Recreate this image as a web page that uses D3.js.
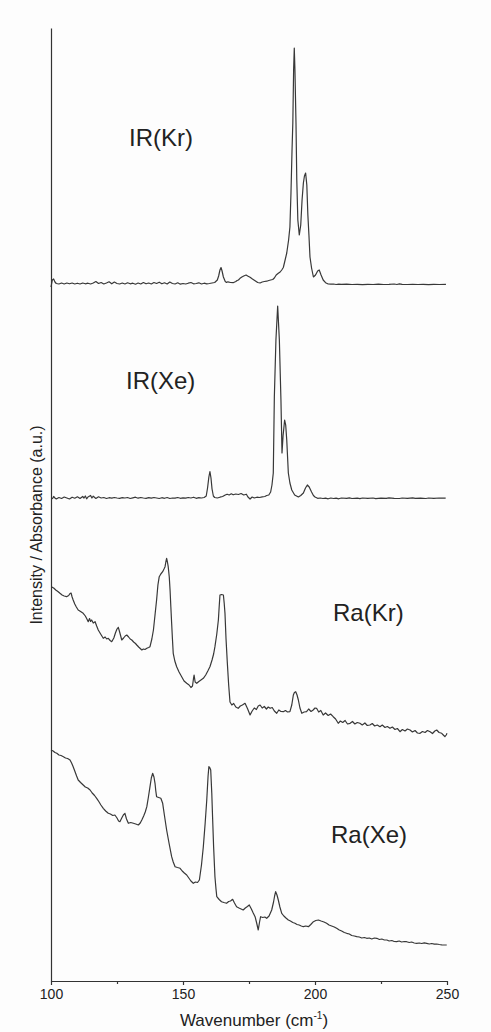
<!DOCTYPE html>
<html><head><meta charset="utf-8">
<script src="https://cdn.jsdelivr.net/npm/d3@7"></script>
<style>body{margin:0;background:#fdfdfd}svg{display:block}</style>
</head><body><svg id="c" width="491" height="1032"></svg>
<script>
const xTickValues=[100,150,200,250];
const xMinorTicks=[125,175,225];
const xTitle="Wavenumber (cm";
const yTitle="Intensity / Absorbance (a.u.)";
const seriesNames=["IR(Kr)","IR(Xe)","Ra(Kr)","Ra(Xe)"];

const irKr=[[100,69.4],[100.5,70.1],[101,70.2],[101.5,69.9],[102,69.75],[103,69.7],[104,69.8],[105,69.7],[106,69.8],[107,69.72],[108,69.8],[109,69.7],[110,69.78],[111,69.7],[112,69.8],[113,69.72],[114,69.78],[115,69.7],[116,69.8],[117,69.95],[118,69.75],[119,69.85],[120,69.7],[121,69.8],[122,69.92],[123,69.72],[124,69.9],[125,69.75],[126,69.7],[127,69.8],[128,69.7],[129,69.82],[130,69.72],[131,69.78],[132,69.68],[133,69.8],[134,69.7],[135,69.85],[136,69.72],[137,69.8],[138,69.7],[139,69.85],[140,69.75],[141,69.88],[142,69.72],[143,69.82],[144,69.7],[145,69.9],[146,69.75],[147,69.7],[148,69.82],[149,69.68],[150,69.75],[151,69.7],[152,69.78],[153,69.85],[154,69.72],[155,69.75],[156,69.82],[157,69.7],[158,69.78],[159,69.72],[160,69.75],[161,69.8],[162,69.85],[163,70.1],[163.5,70.5],[164,71.1],[164.4,71.35],[164.8,71.0],[165.3,70.4],[166,69.95],[166.5,69.85],[167,69.92],[168,69.85],[169,69.83],[170,69.95],[170.5,70.05],[171,70.1],[171.6,70.27],[172.3,70.4],[173,70.5],[173.9,70.6],[174.5,70.5],[175.4,70.37],[176.3,70.2],[177.3,70.03],[178.3,69.85],[179.2,69.8],[180,69.9],[180.8,69.95],[181.7,69.98],[182.5,70.05],[183.2,70.1],[184,70.15],[184.6,70.3],[185.3,70.6],[186.1,70.77],[186.8,70.9],[187.4,71.1],[188,71.35],[188.5,71.9],[189.3,72.8],[190,74.1],[190.5,75.4],[190.9,78.8],[191.3,83.1],[191.6,85.8],[191.9,91.1],[192.15,93.3],[192.4,91.1],[192.8,85.8],[193.1,80.1],[193.5,76.1],[194.05,74.6],[194.6,75.6],[195.1,78.1],[195.6,79.8],[196,80.5],[196.45,80.8],[196.9,79.6],[197.3,76.6],[197.7,74.6],[198.1,72.4],[198.7,71.3],[199.4,70.4],[200.2,70.6],[201,71.0],[201.6,71.1],[202.3,70.6],[203.1,70.1],[204,69.83],[205,69.7],[206,69.68],[207,69.7],[208,69.65],[209,69.68],[210,69.66],[212,69.68],[214,69.65],[216,69.67],[218,69.64],[220,69.67],[222,69.65],[224,69.68],[226,69.65],[228,69.66],[230,69.7],[231,69.65],[232,69.72],[233,69.66],[235,69.65],[237,69.67],[239,69.65],[241,69.66],[243,69.64],[245,69.66],[247,69.65],[249.6,69.66]];

const irXe=[[100.5,48.2],[101,48.45],[101.5,48.3],[102,48.2],[103,48.35],[104,48.25],[105,48.4],[106,48.3],[107,48.2],[108,48.38],[109,48.28],[110,48.42],[111,48.25],[112,48.45],[112.5,48.3],[113,48.5],[113.5,48.22],[114,48.4],[115,48.55],[115.5,48.3],[116,48.48],[117,48.25],[118,48.42],[119,48.3],[120,48.35],[121,48.25],[122,48.33],[123,48.28],[124,48.35],[125,48.3],[126,48.27],[127,48.33],[128,48.3],[129,48.35],[130,48.25],[131,48.32],[132,48.38],[133,48.28],[134,48.35],[135,48.3],[136,48.26],[137,48.33],[138,48.28],[139,48.35],[140,48.3],[141,48.25],[142,48.33],[143,48.27],[144,48.35],[145,48.25],[146,48.3],[147,48.28],[148,48.35],[149,48.27],[150,48.32],[151,48.28],[152,48.35],[153,48.3],[154,48.38],[155,48.27],[156,48.33],[157,48.3],[158,48.35],[158.8,48.5],[159.3,49.3],[159.8,50.4],[160.2,50.93],[160.6,50.3],[161,49.2],[161.5,48.5],[162,48.35],[163,48.3],[164,48.38],[165,48.45],[166,48.6],[166.7,48.68],[167.5,48.6],[168.3,48.72],[169,48.62],[170,48.7],[171,48.65],[172,48.75],[173,48.6],[174,48.68],[174.6,48.4],[175.4,48.2],[176.2,48.4],[177,48.3],[178,48.38],[179,48.35],[180,48.42],[181,48.45],[181.7,48.55],[182.5,48.6],[183.2,48.9],[183.7,49.6],[184.2,50.8],[184.6,58.4],[185.2,64.1],[185.86,67.5],[186.5,64.1],[187.1,58.1],[187.5,52.8],[187.9,54.5],[188.5,56.1],[188.9,55.6],[189.3,54.1],[189.9,50.8],[190.5,49.8],[191.2,49.1],[192.3,48.6],[193.7,48.4],[194.6,48.55],[195.6,48.8],[196.4,49.3],[197.1,49.6],[197.8,49.4],[198.7,48.9],[199.4,48.55],[200,48.4],[201,48.27],[202,48.3],[203,48.25],[204,48.28],[205,48.22],[206,48.3],[207,48.25],[208,48.28],[209,48.22],[210,48.3],[212,48.26],[213,48.32],[214,48.25],[216,48.28],[217,48.23],[218,48.3],[220,48.27],[222,48.3],[223,48.24],[225,48.28],[227,48.26],[228,48.32],[230,48.27],[232,48.25],[233,48.3],[235,48.27],[237,48.32],[238,48.26],[240,48.28],[242,48.25],[243,48.3],[245,48.27],[247,48.3],[249.5,48.28]];

const raKr=[[100.3,39.4],[101,39.3],[101.8,39.1],[102.6,38.95],[103.4,38.77],[104.2,38.6],[105,38.5],[105.9,38.43],[106.7,38.55],[107.2,38.75],[107.6,38.8],[108,38.4],[108.4,38.1],[109,37.7],[109.6,37.4],[110.3,37.1],[111.2,36.95],[112.2,36.77],[113,36.5],[113.6,36.2],[114.1,35.93],[114.6,36.25],[115,35.95],[115.4,36.1],[116,35.8],[116.7,35.93],[117.3,35.5],[117.9,35.1],[118.8,34.7],[119.8,34.27],[120.5,34.4],[121.1,34.2],[121.7,34.27],[122.4,34.05],[123,33.93],[123.8,34.3],[124.4,34.8],[125,35.2],[125.5,35.37],[126,34.9],[126.8,34.1],[127.5,34.3],[128.1,34.5],[128.7,34.6],[129.4,34.4],[130,34.2],[130.6,34.1],[131.3,33.9],[132,33.75],[132.5,33.6],[133.2,33.4],[133.8,33.25],[134.4,33.1],[135,33.2],[135.6,33.15],[136.3,33.27],[137,33.35],[137.5,33.43],[138.2,34.2],[138.8,35.1],[139.4,36.6],[140,38.1],[140.5,39.6],[141,40.43],[141.6,40.7],[142.3,40.93],[142.8,41.2],[143.2,41.43],[143.5,41.9],[143.8,42.27],[144.1,41.9],[144.4,41.43],[144.8,40.4],[145.1,39.1],[145.4,37.4],[145.7,35.77],[146,34.2],[146.3,32.77],[146.9,32.0],[147.6,31.43],[148.5,30.9],[149.5,30.43],[150.4,30.0],[151.4,29.77],[152.3,29.6],[153,29.35],[153.6,29.5],[154,30.3],[154.2,30.6],[154.6,29.9],[155.2,29.77],[156,29.95],[156.8,30.1],[157.7,30.27],[158.6,30.6],[159.4,31.0],[160.2,31.43],[161,32.1],[161.6,32.7],[162.1,33.43],[162.8,34.7],[163.4,36.1],[163.7,37.4],[164,38.6],[164.6,38.65],[165.3,38.6],[165.6,37.8],[165.9,36.77],[166.3,34.2],[166.8,31.77],[167.3,29.6],[167.8,27.9],[168.5,27.6],[169.2,27.75],[170,27.4],[170.9,27.27],[171.7,27.5],[172.5,27.6],[173.5,27.77],[174.5,27.2],[175.4,26.6],[176.2,27.0],[177,27.3],[177.8,27.15],[178.5,27.5],[179.2,27.6],[180,27.3],[180.8,27.45],[181.6,27.2],[182.3,27.4],[183,27.27],[183.8,27.35],[184.6,27.0],[185.5,26.77],[186.3,27.1],[187.1,26.95],[188,26.93],[188.8,27.05],[189.6,26.9],[190.5,26.93],[191.2,27.6],[191.8,28.6],[192.2,28.85],[192.7,28.93],[193.2,28.6],[193.7,28.1],[194.3,27.3],[195,26.77],[195.9,26.9],[196.8,26.93],[197.6,27.2],[198.5,26.95],[199.3,27.1],[200,27.3],[200.6,27.27],[201.4,26.9],[202.2,27.05],[203.1,26.6],[204,26.8],[205,26.55],[205.9,26.7],[206.9,26.43],[207.8,26.2],[208.8,25.77],[209.6,26.0],[210.5,25.85],[211.4,26.05],[212.3,25.7],[213.3,25.77],[214.2,25.95],[215.1,25.7],[216,25.85],[217,25.77],[217.9,25.6],[218.9,25.8],[219.8,25.55],[220.8,25.6],[221.7,25.75],[222.6,25.5],[223.6,25.6],[224.6,25.43],[225.5,25.6],[226.5,25.35],[227.4,25.45],[228.4,25.27],[229.3,25.4],[230.3,25.15],[231.2,25.25],[232.2,24.93],[233.1,25.15],[234.1,25.0],[235,25.2],[236,25.1],[236.9,24.9],[237.9,25.05],[238.8,24.8],[239.8,24.77],[240.7,24.95],[241.7,24.85],[242.6,25.05],[243.6,24.93],[244.5,24.75],[245.4,25.0],[246.1,25.1],[247,24.85],[248,24.77],[248.6,24.6],[249.2,24.43],[249.7,24.6],[250,24.77]];

const raXe=[[100,23.1],[100.8,23.0],[101.5,22.85],[102.2,22.77],[103,22.6],[103.8,22.55],[104.7,22.43],[105.5,22.3],[106.3,22.25],[107.2,22.1],[107.8,21.8],[108.4,21.43],[109,21.0],[109.7,20.5],[110.3,20.1],[111.2,19.85],[112.2,19.6],[113,19.4],[113.9,19.3],[114.8,19.1],[115.6,18.8],[116.5,18.55],[117.3,18.27],[118.1,17.95],[118.9,17.6],[119.8,17.27],[120.7,17.0],[121.7,16.77],[122.5,16.7],[123.4,16.55],[124.2,16.6],[125,16.3],[125.6,16.0],[126.1,15.93],[126.8,16.3],[127.4,16.6],[128,16.77],[128.6,16.2],[129.3,15.77],[130.2,15.85],[131.2,15.77],[132.1,15.7],[133.1,15.6],[133.8,15.8],[134.4,16.1],[135.1,16.5],[135.7,16.9],[136.3,17.43],[136.9,18.4],[137.5,19.43],[138,20.3],[138.5,20.77],[139,20.4],[139.4,19.77],[139.7,19.0],[140,18.43],[140.8,18.35],[141.6,18.27],[142.3,17.77],[143,16.5],[143.8,15.1],[144.7,13.8],[145.7,12.43],[146.3,11.9],[147,11.43],[147.9,11.35],[148.9,11.27],[149.7,11.0],[150.5,10.8],[151.4,10.6],[152.2,10.3],[153,10.0],[153.9,9.77],[154.7,9.9],[155.5,9.85],[156.2,10.1],[157,11.6],[157.7,13.43],[158.4,15.8],[159,18.1],[159.5,20.5],[159.8,21.43],[160.2,21.3],[160.5,21.1],[160.9,18.8],[161.2,16.43],[161.6,13.4],[162.1,10.43],[162.5,9.2],[162.8,8.43],[163.7,8.15],[164.6,7.93],[165.5,7.85],[166.5,7.77],[167.3,7.95],[168,8.0],[168.8,8.17],[169.5,7.8],[170.3,7.43],[171.2,7.3],[172,7.2],[172.8,7.1],[173.6,7.3],[174.4,7.45],[175.1,7.6],[175.9,7.2],[176.6,6.8],[177.3,6.43],[177.9,5.8],[178.5,5.1],[179,5.9],[179.4,6.43],[180.2,6.35],[181,6.4],[181.7,6.27],[182.6,6.5],[183.1,6.8],[183.6,7.1],[184.3,7.9],[184.7,8.5],[185.1,8.93],[185.6,8.6],[186.1,8.1],[186.7,7.4],[187.4,6.77],[188.2,6.5],[189,6.3],[189.9,6.1],[190.7,6.0],[191.6,5.85],[192.4,5.77],[193.2,5.65],[194,5.6],[194.8,5.5],[195.6,5.43],[196.5,5.5],[197.5,5.43],[198.4,5.65],[199.4,5.93],[200.3,6.05],[201.3,6.1],[202.3,6.0],[203.4,5.9],[204.4,5.77],[205.3,5.6],[206.3,5.5],[207.3,5.4],[208.2,5.27],[209.2,5.1],[210.1,5.0],[211.1,4.85],[212,4.77],[213,4.7],[213.9,4.55],[214.9,4.5],[215.8,4.43],[216.8,4.4],[217.7,4.3],[218.7,4.35],[219.6,4.27],[220.6,4.3],[221.5,4.2],[222.5,4.3],[223.4,4.27],[224.4,4.15],[225.3,4.2],[226.3,4.1],[227.2,4.1],[228.1,4.0],[229.1,4.05],[230,3.95],[230.9,3.93],[231.9,4.0],[232.8,3.9],[233.8,3.95],[234.7,3.93],[235.7,3.85],[236.6,3.9],[237.6,3.8],[238.5,3.77],[239.5,3.8],[240.4,3.75],[241.4,3.82],[242.3,3.77],[243.3,3.7],[244.2,3.75],[245.2,3.68],[246.1,3.7],[247.1,3.65],[248,3.62],[249,3.6],[249.9,3.6]];

const allSeries=[irKr,irXe,raKr,raXe];

const svg=d3.select("#c");
svg.append("rect").attr("width",491).attr("height",1032).attr("fill","#fdfdfd");
const FONT="'Liberation Sans', Arial, Helvetica, sans-serif";
const x=d3.scaleLinear().domain([100,250]).range([51,447]);
const y=d3.scaleLinear().domain([0,95.3]).range([981,28]);

const line=d3.line().x(d=>x(d[0])).y(d=>y(d[1]));
svg.append("g").selectAll("path").data(allSeries).join("path")
  .attr("d",line).attr("fill","none").attr("stroke","#383838")
  .attr("stroke-width",1.2).attr("stroke-linejoin","round");

// bottom axis
const gx=svg.append("g").attr("transform",`translate(0,${y(0)})`)
  .call(d3.axisBottom(x).tickValues(xTickValues).tickSize(4).tickSizeOuter(0).tickPadding(4));
gx.select(".domain").attr("stroke","#333").attr("stroke-width",1.2);
gx.selectAll(".tick line").attr("stroke","#333").attr("stroke-width",1.2);
gx.selectAll(".tick text").attr("font-family",FONT).attr("font-size",14).attr("fill","#222");
const gm=svg.append("g").attr("transform",`translate(0,${y(0)})`)
  .call(d3.axisBottom(x).tickValues(xMinorTicks).tickSize(3).tickFormat(""));
gm.select(".domain").remove();
gm.selectAll(".tick line").attr("stroke","#333").attr("stroke-width",1.2);

// left axis
const gy=svg.append("g").attr("transform",`translate(${x(100)},0)`)
  .call(d3.axisLeft(y).tickValues([]).tickSizeOuter(0));
gy.select(".domain").attr("stroke","#333").attr("stroke-width",1.2);

// titles
const xt=svg.append("text").attr("x",254).attr("y",1026).attr("text-anchor","middle")
  .attr("font-family",FONT).attr("font-size",17).attr("fill","#222");
xt.append("tspan").text(xTitle);
xt.append("tspan").attr("font-size",10).attr("dy",-7).text("-1");
xt.append("tspan").attr("dy",7).text(")");

svg.append("text").attr("transform","translate(42,525) rotate(-90)")
  .attr("text-anchor","middle").attr("font-family",FONT).attr("font-size",16).attr("fill","#222")
  .text(yTitle);

// series labels
const labelPos=[[129,146],[126,389],[333,621],[331,843]];
svg.append("g").selectAll("text").data(seriesNames).join("text")
  .attr("x",(d,i)=>labelPos[i][0]).attr("y",(d,i)=>labelPos[i][1])
  .attr("font-family",FONT).attr("font-size",24).attr("fill","#222").text(d=>d);
</script></body></html>
